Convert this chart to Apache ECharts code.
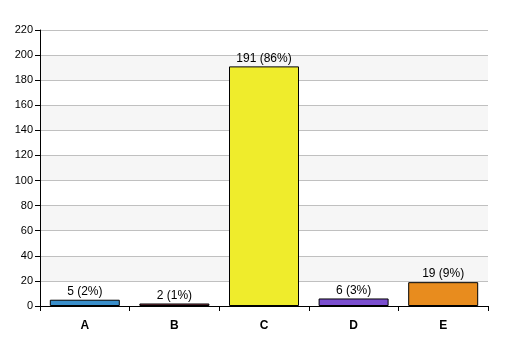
<!DOCTYPE html>
<html><head><meta charset="utf-8">
<script src="https://cdn.jsdelivr.net/npm/echarts@6/dist/echarts.min.js"></script>
<style>html,body{margin:0;padding:0;background:#fff}#c{width:507px;height:356px}</style>
</head><body><div id="c"></div>
<script>
const categories = ['A','B','C','D','E'];
const counts = [5, 2, 191, 6, 19];
const percents = ['2%','1%','86%','3%','9%'];
const barColors = ['#3a8fcb','#8a3847','#efec2c','#7b4fcf','#e88c1e'];

const chart = echarts.init(document.getElementById('c'), null, {renderer:'canvas'});
chart.setOption({
  animation:false,
  backgroundColor:'#fff',
  grid:{left:40,right:19,top:30,bottom:50,containLabel:false},
  xAxis:{
    type:'category', data:categories,
    axisLine:{lineStyle:{color:'#000',width:1}},
    axisTick:{show:true,alignWithLabel:false,length:5,lineStyle:{color:'#000'}},
    axisLabel:{color:'#000',fontFamily:'Liberation Sans, Arial, sans-serif',fontSize:12,fontWeight:'bold',margin:14},
    splitLine:{show:false}
  },
  yAxis:{
    type:'value', min:0, max:220, interval:20,
    axisLine:{show:true,lineStyle:{color:'#000',width:1}},
    axisTick:{show:true,length:5,lineStyle:{color:'#000'}},
    axisLabel:{color:'#000',fontFamily:'Liberation Sans, Arial, sans-serif',fontSize:11,margin:7},
    splitLine:{show:true,lineStyle:{color:'#c0c0c0',width:1}},
    splitArea:{show:true,areaStyle:{color:['#ffffff','#f6f6f6']}}
  },
  series:[{
    type:'bar',
    data:counts.map((v,i)=>({value:v,itemStyle:{color:barColors[i]}})),
    barWidth:70,
    itemStyle:{borderColor:'#000',borderWidth:1},
    label:{show:true,position:'top',distance:2,color:'#000',
      fontFamily:'Liberation Sans, Arial, sans-serif',fontSize:12,
      formatter:p=>counts[p.dataIndex]+' ('+percents[p.dataIndex]+')'}
  }]
});
</script></body></html>
